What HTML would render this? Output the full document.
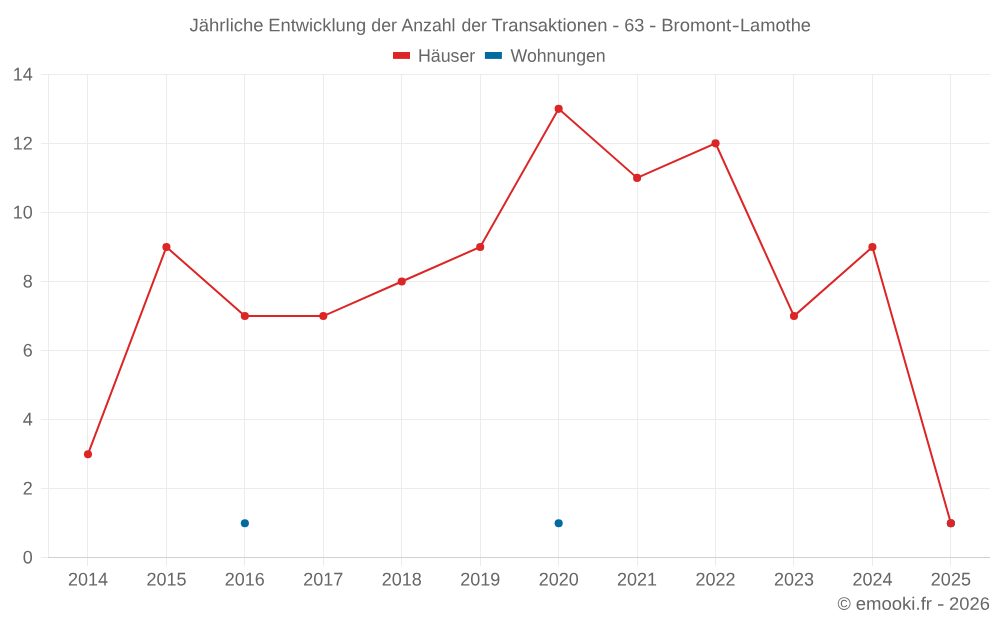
<!DOCTYPE html>
<html lang="de"><head><meta charset="utf-8"><title>Jährliche Entwicklung der Anzahl der Transaktionen</title>
<style>html,body{margin:0;padding:0;background:#fff;}svg{display:block;will-change:transform;}text{font-family:"Liberation Sans",sans-serif;fill:#666666;}</style></head><body>
<svg width="1000" height="625" viewBox="0 0 1000 625">
<rect width="1000" height="625" fill="#fff"/>
<g stroke="#ececec" stroke-width="1" fill="none">
<line x1="41.00" y1="557.50" x2="990.10" y2="557.50"/>
<line x1="41.00" y1="488.50" x2="990.10" y2="488.50"/>
<line x1="41.00" y1="419.50" x2="990.10" y2="419.50"/>
<line x1="41.00" y1="350.50" x2="990.10" y2="350.50"/>
<line x1="41.00" y1="281.50" x2="990.10" y2="281.50"/>
<line x1="41.00" y1="212.50" x2="990.10" y2="212.50"/>
<line x1="41.00" y1="143.50" x2="990.10" y2="143.50"/>
<line x1="41.00" y1="74.50" x2="990.10" y2="74.50"/>
<line x1="87.50" y1="74.30" x2="87.50" y2="566.00"/>
<line x1="166.50" y1="74.30" x2="166.50" y2="566.00"/>
<line x1="244.50" y1="74.30" x2="244.50" y2="566.00"/>
<line x1="323.50" y1="74.30" x2="323.50" y2="566.00"/>
<line x1="401.50" y1="74.30" x2="401.50" y2="566.00"/>
<line x1="480.50" y1="74.30" x2="480.50" y2="566.00"/>
<line x1="558.50" y1="74.30" x2="558.50" y2="566.00"/>
<line x1="637.50" y1="74.30" x2="637.50" y2="566.00"/>
<line x1="715.50" y1="74.30" x2="715.50" y2="566.00"/>
<line x1="793.50" y1="74.30" x2="793.50" y2="566.00"/>
<line x1="872.50" y1="74.30" x2="872.50" y2="566.00"/>
<line x1="950.50" y1="74.30" x2="950.50" y2="566.00"/>
<line x1="48.50" y1="74.30" x2="48.50" y2="557.80"/>
</g>
<line x1="48.00" y1="557.50" x2="990.10" y2="557.50" stroke="#d0d0d0" stroke-width="1"/>
<g font-size="18.4" text-anchor="end" lengthAdjust="spacingAndGlyphs">
<text x="32.8" y="563.50" rotate="0.05" textLength="10.01" lengthAdjust="spacingAndGlyphs">0</text>
<text x="32.8" y="494.50" rotate="0.05" textLength="10.01" lengthAdjust="spacingAndGlyphs">2</text>
<text x="32.8" y="425.50" rotate="0.05" textLength="10.01" lengthAdjust="spacingAndGlyphs">4</text>
<text x="32.8" y="356.50" rotate="0.05" textLength="10.01" lengthAdjust="spacingAndGlyphs">6</text>
<text x="32.8" y="287.50" rotate="0.05" textLength="10.01" lengthAdjust="spacingAndGlyphs">8</text>
<text x="32.8" y="218.50" rotate="0.05" textLength="20.02" lengthAdjust="spacingAndGlyphs">10</text>
<text x="32.8" y="149.50" rotate="0.05" textLength="20.02" lengthAdjust="spacingAndGlyphs">12</text>
<text x="32.8" y="80.50" rotate="0.05" textLength="20.02" lengthAdjust="spacingAndGlyphs">14</text>
</g>
<g font-size="18.4" text-anchor="middle">
<text x="87.97" y="585.5" rotate="0.05" textLength="40.04" lengthAdjust="spacingAndGlyphs">2014</text>
<text x="166.42" y="585.5" rotate="0.05" textLength="40.04" lengthAdjust="spacingAndGlyphs">2015</text>
<text x="244.86" y="585.5" rotate="0.05" textLength="40.04" lengthAdjust="spacingAndGlyphs">2016</text>
<text x="323.31" y="585.5" rotate="0.05" textLength="40.04" lengthAdjust="spacingAndGlyphs">2017</text>
<text x="401.76" y="585.5" rotate="0.05" textLength="40.04" lengthAdjust="spacingAndGlyphs">2018</text>
<text x="480.20" y="585.5" rotate="0.05" textLength="40.04" lengthAdjust="spacingAndGlyphs">2019</text>
<text x="558.65" y="585.5" rotate="0.05" textLength="40.04" lengthAdjust="spacingAndGlyphs">2020</text>
<text x="637.09" y="585.5" rotate="0.05" textLength="40.04" lengthAdjust="spacingAndGlyphs">2021</text>
<text x="715.54" y="585.5" rotate="0.05" textLength="40.04" lengthAdjust="spacingAndGlyphs">2022</text>
<text x="793.99" y="585.5" rotate="0.05" textLength="40.04" lengthAdjust="spacingAndGlyphs">2023</text>
<text x="872.43" y="585.5" rotate="0.05" textLength="40.04" lengthAdjust="spacingAndGlyphs">2024</text>
<text x="950.88" y="585.5" rotate="0.05" textLength="40.04" lengthAdjust="spacingAndGlyphs">2025</text>
</g>
<text y="31.2" rotate="0.05" font-size="18"><tspan x="189.49" textLength="74.13" lengthAdjust="spacingAndGlyphs">Jährliche</tspan> <tspan x="268.20" textLength="97.91" lengthAdjust="spacingAndGlyphs">Entwicklung</tspan> <tspan x="371.31" textLength="25.59" lengthAdjust="spacingAndGlyphs">der</tspan> <tspan x="401.41" textLength="54.11" lengthAdjust="spacingAndGlyphs">Anzahl</tspan> <tspan x="461.43" textLength="25.41" lengthAdjust="spacingAndGlyphs">der</tspan> <tspan x="491.56" textLength="115.88" lengthAdjust="spacingAndGlyphs">Transaktionen</tspan> <tspan x="612.32" textLength="7.05" lengthAdjust="spacingAndGlyphs">-</tspan> <tspan x="624.15" textLength="20.11" lengthAdjust="spacingAndGlyphs">63</tspan> <tspan x="649.06" textLength="7.36" lengthAdjust="spacingAndGlyphs">-</tspan> <tspan x="661.26" textLength="69.99" lengthAdjust="spacingAndGlyphs">Bromont</tspan><tspan x="731.83" textLength="7.88" lengthAdjust="spacingAndGlyphs">-</tspan><tspan x="739.94" textLength="71.11" lengthAdjust="spacingAndGlyphs">Lamothe</tspan></text>
<rect x="393.0" y="52.0" width="17.0" height="6.9" fill="#dc2626"/>
<text x="417.9" y="61.7" rotate="0.05" font-size="18" textLength="57.4" lengthAdjust="spacingAndGlyphs">Häuser</text>
<rect x="484.9" y="52.0" width="17.0" height="6.9" fill="#0369a1"/>
<text x="510.5" y="61.7" rotate="0.05" font-size="18" textLength="95.2" lengthAdjust="spacingAndGlyphs">Wohnungen</text>
<text y="609.7" rotate="0.05" font-size="18"><tspan x="837.48" textLength="13.31" lengthAdjust="spacingAndGlyphs">©</tspan> <tspan x="855.69" textLength="76.30" lengthAdjust="spacingAndGlyphs">emooki.fr</tspan> <tspan x="937.00" textLength="7.49" lengthAdjust="spacingAndGlyphs">-</tspan> <tspan x="949.08" textLength="40.82" lengthAdjust="spacingAndGlyphs">2026</tspan></text>
<g fill="#0369a1">
<circle cx="244.86" cy="523.26" r="4.05"/>
<circle cx="558.65" cy="523.26" r="4.05"/>
<circle cx="950.88" cy="523.26" r="4.05"/>
</g>
<polyline points="87.97,454.19 166.42,246.98 244.86,316.05 323.31,316.05 401.76,281.51 480.20,246.98 558.65,108.84 637.09,177.91 715.54,143.37 793.99,316.05 872.43,246.98 950.88,523.26" fill="none" stroke="#dc2626" stroke-width="2.0" stroke-linejoin="miter"/>
<g fill="#dc2626">
<circle cx="87.97" cy="454.19" r="4.05"/>
<circle cx="166.42" cy="246.98" r="4.05"/>
<circle cx="244.86" cy="316.05" r="4.05"/>
<circle cx="323.31" cy="316.05" r="4.05"/>
<circle cx="401.76" cy="281.51" r="4.05"/>
<circle cx="480.20" cy="246.98" r="4.05"/>
<circle cx="558.65" cy="108.84" r="4.05"/>
<circle cx="637.09" cy="177.91" r="4.05"/>
<circle cx="715.54" cy="143.37" r="4.05"/>
<circle cx="793.99" cy="316.05" r="4.05"/>
<circle cx="872.43" cy="246.98" r="4.05"/>
<circle cx="950.88" cy="523.26" r="4.05"/>
</g>
</svg></body></html>
